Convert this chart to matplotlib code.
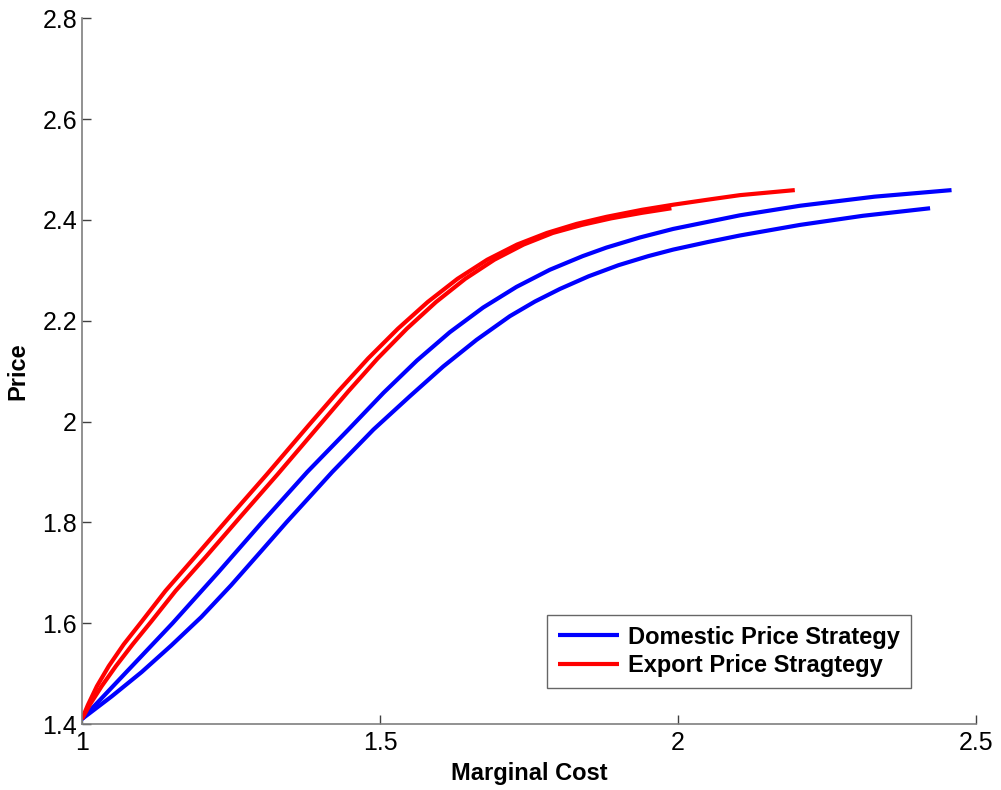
import matplotlib
matplotlib.use("Agg")
import matplotlib.pyplot as plt

# Domestic price strategy (blue), two curves
dom_hi_x = [1.000, 1.036, 1.072, 1.112, 1.152, 1.228, 1.302, 1.378, 1.447, 1.506, 1.562,
            1.617, 1.673, 1.729, 1.785, 1.840, 1.880, 1.936, 1.992, 2.104, 2.205, 2.330, 2.459]
dom_hi_y = [1.410, 1.455, 1.500, 1.550, 1.600, 1.700, 1.800, 1.900, 1.984, 2.057, 2.121,
            2.177, 2.226, 2.267, 2.301, 2.328, 2.345, 2.365, 2.382, 2.409, 2.428, 2.446, 2.459]
dom_lo_x = [1.000, 1.050, 1.100, 1.150, 1.200, 1.250, 1.300, 1.343, 1.420, 1.489, 1.550,
            1.606, 1.662, 1.718, 1.760, 1.802, 1.850, 1.900, 1.950, 1.992, 2.050, 2.104,
            2.205, 2.310, 2.423]
dom_lo_y = [1.410, 1.455, 1.503, 1.556, 1.612, 1.675, 1.742, 1.800, 1.900, 1.984, 2.050,
            2.109, 2.162, 2.209, 2.238, 2.263, 2.288, 2.310, 2.328, 2.341, 2.356, 2.369,
            2.390, 2.408, 2.423]

# Export price strategy (red), two curves
exp_hi_x = [1.000, 1.010, 1.025, 1.045, 1.070, 1.100, 1.140, 1.190, 1.250, 1.310, 1.380,
            1.430, 1.480, 1.530, 1.580, 1.630, 1.680, 1.730, 1.780, 1.830, 1.880, 1.940,
            1.992, 2.050, 2.104, 2.196]
exp_hi_y = [1.410, 1.438, 1.475, 1.515, 1.558, 1.603, 1.664, 1.732, 1.814, 1.895, 1.992,
            2.060, 2.125, 2.184, 2.237, 2.283, 2.321, 2.351, 2.374, 2.392, 2.406, 2.420,
            2.430, 2.440, 2.449, 2.459]
exp_lo_x = [1.000, 1.013, 1.033, 1.057, 1.085, 1.116, 1.157, 1.208, 1.268, 1.328, 1.398,
            1.447, 1.496, 1.545, 1.594, 1.643, 1.692, 1.741, 1.790, 1.839, 1.888, 1.940,
            1.989]
exp_lo_y = [1.410, 1.438, 1.475, 1.515, 1.558, 1.603, 1.664, 1.732, 1.814, 1.895, 1.992,
            2.060, 2.125, 2.184, 2.237, 2.283, 2.321, 2.351, 2.374, 2.390, 2.403, 2.414,
            2.423]

x_ticks = [1, 1.5, 2, 2.5]
x_tick_labels = ["1", "1.5", "2", "2.5"]
y_ticks = [1.4, 1.6, 1.8, 2.0, 2.2, 2.4, 2.6, 2.8]
y_tick_labels = ["1.4", "1.6", "1.8", "2", "2.2", "2.4", "2.6", "2.8"]

plt.rcParams['font.family'] = ['Liberation Sans', 'DejaVu Sans']

fig = plt.figure(figsize=(10.01, 7.90), dpi=100)
ax = fig.add_axes([0.0819, 0.0835, 0.8931, 0.8935])

blue = '#0000ff'
red = '#ff0000'
lw = 3.0
ax.plot(dom_hi_x, dom_hi_y, color=blue, lw=lw, label='Domestic Price Strategy',
        solid_capstyle='butt', solid_joinstyle='round')
ax.plot(exp_hi_x, exp_hi_y, color=red, lw=lw, label='Export Price Stragtegy',
        solid_capstyle='butt', solid_joinstyle='round')
ax.plot(dom_lo_x, dom_lo_y, color=blue, lw=lw, solid_capstyle='butt', solid_joinstyle='round')
ax.plot(exp_lo_x, exp_lo_y, color=red, lw=lw, solid_capstyle='butt', solid_joinstyle='round')

ax.set_xlim(1, 2.5)
ax.set_ylim(1.4, 2.8)
ax.set_xticks(x_ticks)
ax.set_xticklabels(x_tick_labels)
ax.set_yticks(y_ticks)
ax.set_yticklabels(y_tick_labels)

for s in ['top', 'right']:
    ax.spines[s].set_visible(False)
for s in ['left', 'bottom']:
    ax.spines[s].set_color('#7f7f7f')
    ax.spines[s].set_linewidth(1.2)

ax.tick_params(direction='in', length=6.5, width=1.0, colors='#404040',
               labelcolor='black', labelsize=18)
ax.tick_params(axis='y', pad=3.5)
ax.tick_params(axis='x', pad=5)

ax.set_xlabel('Marginal Cost', fontsize=17, fontweight='bold', labelpad=5)
ax.set_ylabel('Price', fontsize=17, fontweight='bold', labelpad=9)

leg = ax.legend(loc='lower right', bbox_to_anchor=(0.927, 0.051),
                prop={'weight': 'bold', 'size': 17}, frameon=True, fancybox=False,
                handlelength=2.6, handletextpad=0.38, borderpad=0.45, labelspacing=0.25,
                borderaxespad=0)
leg.get_frame().set_edgecolor('#404040')
leg.get_frame().set_linewidth(1.0)

fig.savefig('out.png', dpi=100, facecolor='white')
